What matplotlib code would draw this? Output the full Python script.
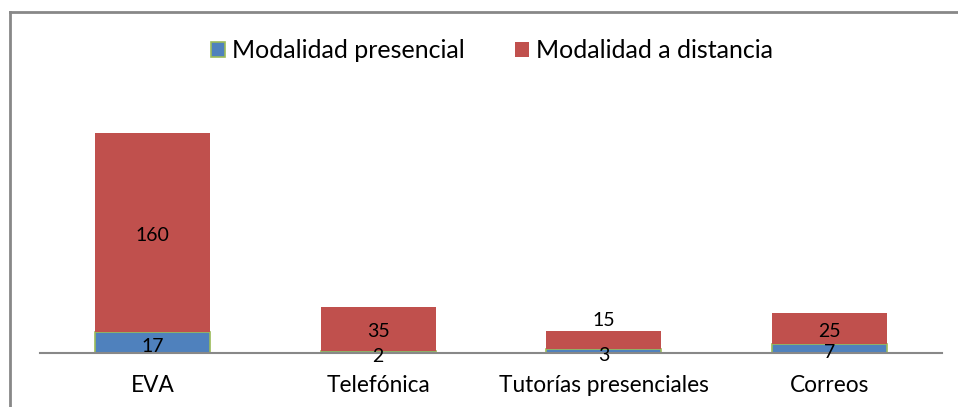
import matplotlib.pyplot as plt
from matplotlib.lines import Line2D

# datos
categorias = ['EVA', 'Telefónica', 'Tutorías presenciales', 'Correos']
presencial = [17, 2, 3, 7]
distancia = [160, 35, 15, 25]

azul = '#4F81BD'
rojo = '#C0504D'
verde = '#9BBB59'

plt.rcParams['font.family'] = ['Lato', 'DejaVu Sans']

W, H = 958, 407
fig = plt.figure(figsize=(W / 100, H / 100), dpi=100)
ax = fig.add_axes([40 / W, 1 - 353 / H, (942 - 40) / W, 250 / H])

x = range(len(categorias))
ax.bar(x, presencial, width=0.51, color=azul, edgecolor=verde, linewidth=1.2,
       label='Modalidad presencial')
ax.bar(x, distancia, width=0.51, bottom=presencial, color=rojo, linewidth=0,
       label='Modalidad a distancia')

# etiquetas de datos
for i in x:
    ax.text(i, presencial[i] / 2 - 3.5, str(presencial[i]), ha='center', va='center',
            fontsize=14, color='black')
    if distancia[i] < 20:
        # Excel la pone encima del segmento pequeño
        y = presencial[i] + distancia[i] + 8
    else:
        y = presencial[i] + distancia[i] / 2 - 2.5
    ax.text(i, y, str(distancia[i]), ha='center', va='center', fontsize=14, color='black')

ax.set_xlim(-0.5, len(categorias) - 0.5)
ax.set_ylim(0, 250 / 1.243)
ax.set_xticks(list(x))
ax.set_xticklabels(categorias, fontsize=16.3)
ax.tick_params(axis='x', length=0, pad=16)
ax.set_yticks([])
for s in ['top', 'left', 'right']:
    ax.spines[s].set_visible(False)
ax.spines['bottom'].set_color('#888888')
ax.spines['bottom'].set_linewidth(1.5)

leg = fig.legend(loc='center', bbox_to_anchor=(492 / W, 1 - 51 / H), ncol=2, frameon=False,
                 fontsize=18, handlelength=0.55, handleheight=0.55, handletextpad=0.3,
                 columnspacing=2.0)
leg.legend_handles[0].set_edgecolor(verde)

# marco exterior (solo se ven arriba e izquierda)
fig.add_artist(Line2D([10 / W, 1.01], [1 - 12 / H, 1 - 12 / H], transform=fig.transFigure,
                      color='#888888', linewidth=2))
fig.add_artist(Line2D([10 / W, 10 / W], [1 - 12 / H, -0.01], transform=fig.transFigure,
                      color='#888888', linewidth=2))

fig.savefig('out.png', dpi=100)
